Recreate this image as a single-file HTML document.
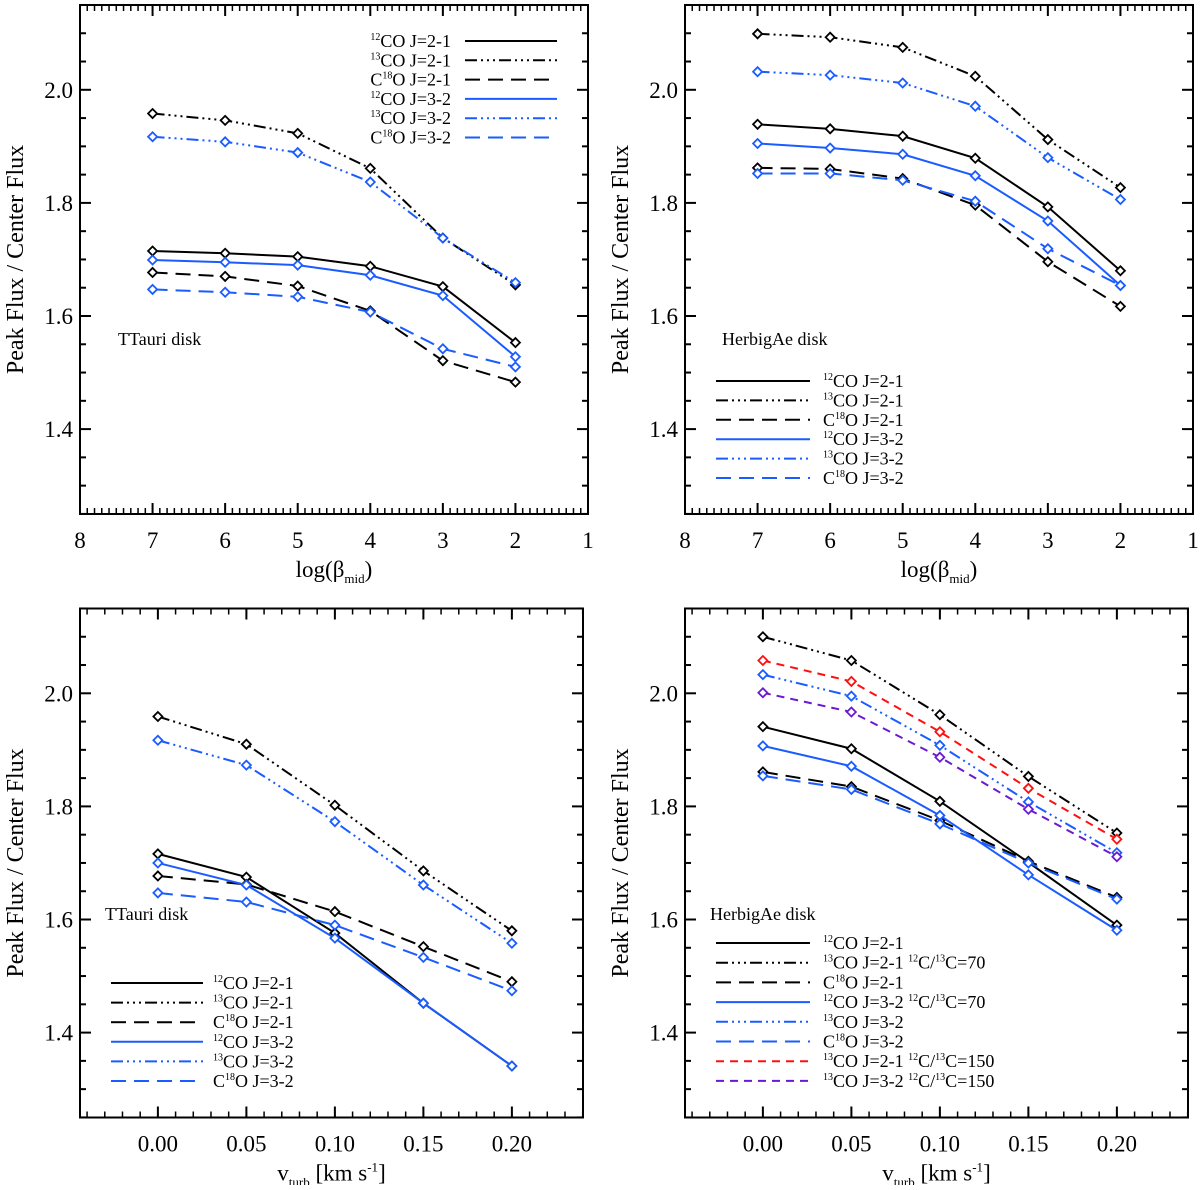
<!DOCTYPE html>
<html><head><meta charset="utf-8"><style>
html,body{margin:0;padding:0;background:#fff}
svg, svg text, svg tspan{font-family:"Liberation Serif","DejaVu Serif",serif}
</style></head><body>
<svg id="chart" width="1200" height="1185" viewBox="0 0 1200 1185" xmlns="http://www.w3.org/2000/svg" font-family="Liberation Serif, DejaVu Serif, serif"></svg>
<script>
// ---------- data ----------
const betaCats = [7, 6, 5, 4, 3, 2];
const turbCats = [0.00, 0.05, 0.10, 0.15, 0.20];
const yTickLabels = ["1.4", "1.6", "1.8", "2.0"];
const betaTickLabels = ["8", "7", "6", "5", "4", "3", "2", "1"];
const turbTickLabels = ["0.00", "0.05", "0.10", "0.15", "0.20"];

// TTauri, beta
const tt_b_12co21 = [1.715, 1.711, 1.705, 1.688, 1.652, 1.553];
const tt_b_13co21 = [1.958, 1.946, 1.923, 1.861, 1.738, 1.655];
const tt_b_c18o21 = [1.677, 1.670, 1.653, 1.609, 1.521, 1.483];
const tt_b_12co32 = [1.699, 1.695, 1.690, 1.672, 1.636, 1.528];
const tt_b_13co32 = [1.917, 1.908, 1.889, 1.837, 1.738, 1.659];
const tt_b_c18o32 = [1.647, 1.642, 1.634, 1.607, 1.542, 1.510];
// HerbigAe, beta
const ha_b_12co21 = [1.939, 1.931, 1.918, 1.879, 1.793, 1.680];
const ha_b_13co21 = [2.099, 2.093, 2.075, 2.024, 1.912, 1.827];
const ha_b_c18o21 = [1.862, 1.860, 1.843, 1.796, 1.696, 1.617];
const ha_b_12co32 = [1.905, 1.897, 1.886, 1.848, 1.768, 1.654];
const ha_b_13co32 = [2.032, 2.026, 2.012, 1.971, 1.880, 1.806];
const ha_b_c18o32 = [1.852, 1.852, 1.840, 1.803, 1.719, 1.654];
// TTauri, vturb
const tt_v_12co21 = [1.716, 1.675, 1.576, 1.452, 1.341];
const tt_v_13co21 = [1.959, 1.910, 1.802, 1.686, 1.580];
const tt_v_c18o21 = [1.677, 1.662, 1.614, 1.552, 1.490];
const tt_v_12co32 = [1.700, 1.661, 1.567, 1.452, 1.341];
const tt_v_13co32 = [1.917, 1.873, 1.773, 1.661, 1.558];
const tt_v_c18o32 = [1.647, 1.631, 1.590, 1.533, 1.474];
// HerbigAe, vturb
const ha_v_12co21 = [1.941, 1.902, 1.809, 1.701, 1.590];
const ha_v_13co21 = [2.100, 2.058, 1.962, 1.853, 1.753];
const ha_v_c18o21 = [1.861, 1.835, 1.775, 1.703, 1.639];
const ha_v_12co32 = [1.907, 1.871, 1.784, 1.679, 1.581];
const ha_v_13co32 = [2.033, 1.995, 1.908, 1.808, 1.718];
const ha_v_c18o32 = [1.854, 1.830, 1.769, 1.700, 1.636];
const ha_v_13co21_150 = [2.058, 2.021, 1.932, 1.832, 1.742];
const ha_v_13co32_150 = [2.001, 1.967, 1.887, 1.795, 1.711];

// ---------- styles ----------
const BLUE = "#1a5cff", RED = "#ff1010", PURPLE = "#6a1ad0";
const DDD = "12,4,2,4,2,4,2,4", DASH = "15,8", SDASH = "8,6";
const FONT = "Liberation Serif, DejaVu Serif, serif";
const S = {
  s12_21: {c:"#000", d:null, l:"^{12}CO J=2-1"},
  s13_21: {c:"#000", d:DDD, l:"^{13}CO J=2-1"},
  s18_21: {c:"#000", d:DASH, l:"C^{18}O J=2-1"},
  s12_32: {c:BLUE, d:null, l:"^{12}CO J=3-2"},
  s13_32: {c:BLUE, d:DDD, l:"^{13}CO J=3-2"},
  s18_32: {c:BLUE, d:DASH, l:"C^{18}O J=3-2"}
};

const svg = document.getElementById("chart");
const NS = "http://www.w3.org/2000/svg";
function mk(tag, attrs, parent) {
  const e = document.createElementNS(NS, tag);
  for (const k in attrs) e.setAttribute(k, attrs[k]);
  if (tag === "text" || tag === "tspan") e.setAttribute("font-family", FONT);
  (parent || svg).appendChild(e);
  return e;
}
function richText(parent, str, x, y, size, anchor, extra) {
  const a = {x:x, y:y, "font-size":size, fill:"#000", "text-anchor":anchor||"start"};
  if (extra) for (const k in extra) a[k] = extra[k];
  const t = mk("text", a, parent);
  const parts = str.split(/(\^\{[^}]*\}|_\{[^}]*\})/);
  let shift = 0;
  parts.forEach(p => {
    if (!p) return;
    let m = p.match(/^([\^_])\{([^}]*)\}$/);
    if (m) {
      const dy = m[1] === "^" ? -Math.round(size*0.38) : Math.round(size*0.28);
      const ts = mk("tspan", {dy: dy - shift, "font-size": Math.round(size*0.58)}, t);
      ts.textContent = m[2];
      shift = dy;
    } else {
      const ts = mk("tspan", {dy: -shift}, t);
      ts.textContent = p;
      shift = 0;
    }
  });
  return t;
}

function panel(cfg) {
  const g = mk("g", {});
  
  
  const x0 = cfg.x0, y0 = cfg.y0, W = cfg.w, H = 509;
  const yv = v => y0 + 84.8 + (2.0 - v) * 565.5;
  const xv = cfg.xf;
  const fr = mk("rect", {x:x0, y:y0, width:W, height:H, fill:"none", stroke:"#000", "stroke-width":2}, g);
  
  
  for (let i = 0; i <= 18; i++) {
    const v = 1.25 + i * 0.05;
    const major = Math.round(v*100) % 20 === 0;
    const L = major ? 11 : 6;
    const y = yv(v);
    mk("line", {x1:x0, x2:x0+L, y1:y, y2:y, stroke:"#000", "stroke-width":2}, g);
    mk("line", {x1:x0+W, x2:x0+W-L, y1:y, y2:y, stroke:"#000", "stroke-width":2}, g);
  }
  yTickLabels.forEach(lab => {
    const t = richText(g, lab, x0-7, yv(parseFloat(lab))+8, 23, "end");
    
    
  });
  cfg.minor.forEach(v => {
    const x = xv(v);
    mk("line", {x1:x, x2:x, y1:y0+H, y2:y0+H-6, stroke:"#000", "stroke-width":1.5}, g);
    mk("line", {x1:x, x2:x, y1:y0, y2:y0+6, stroke:"#000", "stroke-width":1.5}, g);
  });
  cfg.tickLabels.forEach(lab => {
    const v = parseFloat(lab);
    const x = xv(v);
    mk("line", {x1:x, x2:x, y1:y0+H, y2:y0+H-11, stroke:"#000", "stroke-width":2}, g);
    mk("line", {x1:x, x2:x, y1:y0, y2:y0+11, stroke:"#000", "stroke-width":2}, g);
    const t = richText(g, lab, x, y0+H+34, 23, "middle");
    
    
  });
  const yt = richText(g, "Peak Flux / Center Flux", 0, 0, 24, "middle", {transform:`translate(${x0-57},${y0+H/2}) rotate(-90)`});
  
  
  const xt = richText(g, cfg.xtitle, x0 + W/2, y0+H+63, 23, "middle");
  
  
  const dl = richText(g, cfg.label, cfg.labelPos[0], cfg.labelPos[1], 18, "start");
  
  
  cfg.series.forEach(s => {
    const pts = s.vals.map((v, i) => [xv(cfg.cats[i]), yv(v)]);
    const p = mk("polyline", {points: pts.map(q => q.join(",")).join(" "), fill:"none", stroke:s.st.c, "stroke-width":2}, g);
    if (s.st.d) p.setAttribute("stroke-dasharray", s.st.d);
    
    
    pts.forEach(q => {
      const d = mk("path", {d:`M${q[0]-4.5},${q[1]} L${q[0]},${q[1]-4.5} L${q[0]+4.5},${q[1]} L${q[0]},${q[1]+4.5} Z`, fill:"#fff", stroke:s.st.c, "stroke-width":1.8}, g);
      
      
    });
  });
  const L = cfg.legend;
  cfg.legendItems.forEach((st, i) => {
    const y = L.y + i * L.dy;
    const ln = mk("line", {x1:L.lx1, x2:L.lx2, y1:y, y2:y, stroke:st.c, "stroke-width":2}, g);
    if (st.d) ln.setAttribute("stroke-dasharray", st.d);
    
    
    const t = richText(g, st.l, L.tx, y + 6, 18, L.anchor);
    
    
  });
}

function range(a, b, step) { const r = []; for (let v = a; v <= b + 1e-9; v += step) r.push(+v.toFixed(4)); return r; }

const betaX = x0 => b => x0 + (8 - b) * 508 / 7;
const turbX = x0 => v => x0 + (v + 0.044) * 1770;
const six = [S.s12_21, S.s13_21, S.s18_21, S.s12_32, S.s13_32, S.s18_32];

panel({name:"panel-ttauri-beta", x0:80, y0:5, w:508, xf:betaX(80), cats:betaCats,
  minor:range(1, 8, 0.1), tickLabels:betaTickLabels, xtitle:"log(β_{mid})",
  label:"TTauri disk", labelPos:[118, 345],
  series:[
    {name:"line-12co-21", st:S.s12_21, vals:tt_b_12co21},
    {name:"line-13co-21", st:S.s13_21, vals:tt_b_13co21},
    {name:"line-c18o-21", st:S.s18_21, vals:tt_b_c18o21},
    {name:"line-12co-32", st:S.s12_32, vals:tt_b_12co32},
    {name:"line-13co-32", st:S.s13_32, vals:tt_b_13co32},
    {name:"line-c18o-32", st:S.s18_32, vals:tt_b_c18o32}],
  legendItems:six, legend:{y:41, dy:19.3, lx1:465, lx2:557, tx:451, anchor:"end"}});

panel({name:"panel-herbigae-beta", x0:685, y0:5, w:508, xf:betaX(685), cats:betaCats,
  minor:range(1, 8, 0.1), tickLabels:betaTickLabels, xtitle:"log(β_{mid})",
  label:"HerbigAe disk", labelPos:[722, 345],
  series:[
    {name:"line-12co-21", st:S.s12_21, vals:ha_b_12co21},
    {name:"line-13co-21", st:S.s13_21, vals:ha_b_13co21},
    {name:"line-c18o-21", st:S.s18_21, vals:ha_b_c18o21},
    {name:"line-12co-32", st:S.s12_32, vals:ha_b_12co32},
    {name:"line-13co-32", st:S.s13_32, vals:ha_b_13co32},
    {name:"line-c18o-32", st:S.s18_32, vals:ha_b_c18o32}],
  legendItems:six, legend:{y:381, dy:19.4, lx1:716, lx2:810, tx:823, anchor:"start"}});

panel({name:"panel-ttauri-vturb", x0:80, y0:608.5, w:503, xf:turbX(80), cats:turbCats,
  minor:range(-0.04, 0.24, 0.01), tickLabels:turbTickLabels, xtitle:"v_{turb} [km s^{-1}]",
  label:"TTauri disk", labelPos:[105, 920],
  series:[
    {name:"line-12co-21", st:S.s12_21, vals:tt_v_12co21},
    {name:"line-13co-21", st:S.s13_21, vals:tt_v_13co21},
    {name:"line-c18o-21", st:S.s18_21, vals:tt_v_c18o21},
    {name:"line-12co-32", st:S.s12_32, vals:tt_v_12co32},
    {name:"line-13co-32", st:S.s13_32, vals:tt_v_13co32},
    {name:"line-c18o-32", st:S.s18_32, vals:tt_v_c18o32}],
  legendItems:six, legend:{y:983, dy:19.6, lx1:111, lx2:203, tx:213, anchor:"start"}});

panel({name:"panel-herbigae-vturb", x0:685, y0:608.5, w:503, xf:turbX(685), cats:turbCats,
  minor:range(-0.04, 0.24, 0.01), tickLabels:turbTickLabels, xtitle:"v_{turb} [km s^{-1}]",
  label:"HerbigAe disk", labelPos:[710, 920],
  series:[
    {name:"line-12co-21", st:S.s12_21, vals:ha_v_12co21},
    {name:"line-13co-21", st:S.s13_21, vals:ha_v_13co21},
    {name:"line-c18o-21", st:S.s18_21, vals:ha_v_c18o21},
    {name:"line-12co-32", st:S.s12_32, vals:ha_v_12co32},
    {name:"line-13co-32", st:S.s13_32, vals:ha_v_13co32},
    {name:"line-c18o-32", st:S.s18_32, vals:ha_v_c18o32},
    {name:"line-13co-21-ratio150", st:{c:RED, d:SDASH}, vals:ha_v_13co21_150},
    {name:"line-13co-32-ratio150", st:{c:PURPLE, d:SDASH}, vals:ha_v_13co32_150}],
  legendItems:[
    S.s12_21,
    {c:"#000", d:DDD, l:"^{13}CO J=2-1 ^{12}C/^{13}C=70"},
    S.s18_21,
    {c:BLUE, d:null, l:"^{12}CO J=3-2 ^{12}C/^{13}C=70"},
    S.s13_32, S.s18_32,
    {c:RED, d:SDASH, l:"^{13}CO J=2-1 ^{12}C/^{13}C=150"},
    {c:PURPLE, d:SDASH, l:"^{13}CO J=3-2 ^{12}C/^{13}C=150"}],
  legend:{y:943, dy:19.7, lx1:716, lx2:810, tx:823, anchor:"start"}});
</script>
</body></html>
